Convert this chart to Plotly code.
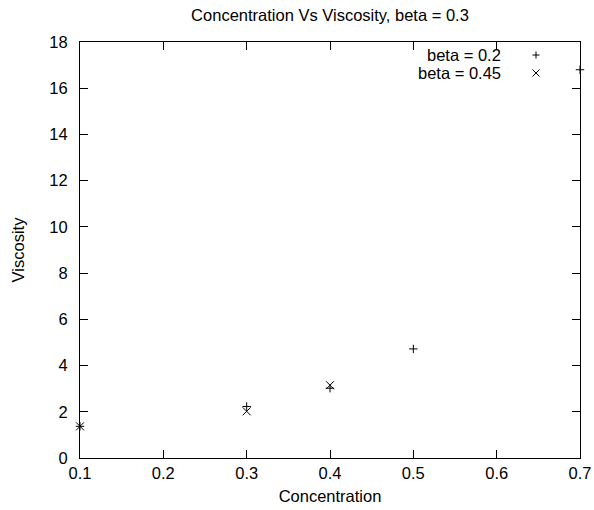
import plotly.graph_objects as go

# Data
conc_b02 = [0.1, 0.3, 0.4, 0.5, 0.7]
visc_b02 = [1.37, 2.23, 3.02, 4.72, 16.8]
conc_b045 = [0.1, 0.3, 0.4]
visc_b045 = [1.37, 2.02, 3.15]
x_ticks = [0.1, 0.2, 0.3, 0.4, 0.5, 0.6, 0.7]
y_ticks = [0, 2, 4, 6, 8, 10, 12, 14, 16, 18]
labels = ["beta = 0.2", "beta = 0.45"]

FONT = "Liberation Sans, Arial, sans-serif"
FS = 16.5

fig = go.Figure()
fig.add_trace(go.Scatter(x=conc_b02, y=visc_b02, mode="markers", name=labels[0],
                         marker=dict(symbol="cross-thin", size=6, line=dict(color="black", width=1)),
                         cliponaxis=False, showlegend=False))
fig.add_trace(go.Scatter(x=conc_b045, y=visc_b045, mode="markers", name=labels[1],
                         marker=dict(symbol="x-thin", size=8, line=dict(color="black", width=1)),
                         cliponaxis=False, showlegend=False))

W, H = 594, 510
L, R, T, B = 80, 14, 42, 52
pw, ph = W - L - R, H - T - B

def px2paper(x, y):
    return (x - L) / pw, (H - B - y) / ph

# legend emulation: right-aligned text followed by sample symbol
leg_rows = [(55, "plus"), (73, "x")]
shapes = []
annotations = []
for (yy, kind), lab in zip(leg_rows, labels):
    tx, ty = px2paper(503, yy)
    annotations.append(dict(x=tx, y=ty, xref="paper", yref="paper", text=lab,
                            showarrow=False, xanchor="right", yanchor="middle",
                            font=dict(family=FONT, size=FS, color="black")))
    cx, cy = 536, yy
    s = 3.5
    if kind == "plus":
        segs = [((cx - s, cy), (cx + s, cy)), ((cx, cy - s), (cx, cy + s))]
    else:
        segs = [((cx - s, cy - s), (cx + s, cy + s)), ((cx - s, cy + s), (cx + s, cy - s))]
    for (x0, y0), (x1, y1) in segs:
        a0, b0 = px2paper(x0, y0)
        a1, b1 = px2paper(x1, y1)
        shapes.append(dict(type="line", xref="paper", yref="paper", x0=a0, y0=b0, x1=a1, y1=b1,
                           line=dict(color="black", width=1)))

axis_common = dict(showline=True, linecolor="black", linewidth=1, mirror="ticks",
                   ticks="inside", ticklen=8, tickcolor="black", tickwidth=1,
                   showgrid=False, zeroline=False, automargin=False,
                   tickfont=dict(family=FONT, size=FS, color="black"))

fig.update_layout(
    width=W, height=H,
    margin=dict(l=L, r=R, t=T, b=B),
    paper_bgcolor="white", plot_bgcolor="white",
    title=dict(text="Concentration Vs Viscosity, beta = 0.3", x=(L + pw / 2) / W, xanchor="center",
               y=1 - 15 / H, yanchor="middle",
               font=dict(family=FONT, size=FS, color="black")),
    xaxis=dict(range=[0.1, 0.7], tickvals=x_ticks, ticktext=[f"{v:.1f}" for v in x_ticks],
               title=dict(text="Concentration", standoff=9, font=dict(family=FONT, size=FS, color="black")),
               ticklabelstandoff=0, **axis_common),
    yaxis=dict(range=[0, 18], tickvals=y_ticks,
               title=dict(text="Viscosity", standoff=20, font=dict(family=FONT, size=FS, color="black")),
               ticklabelstandoff=8, **axis_common),
    shapes=shapes, annotations=annotations,
)

fig.write_html("out.html")
